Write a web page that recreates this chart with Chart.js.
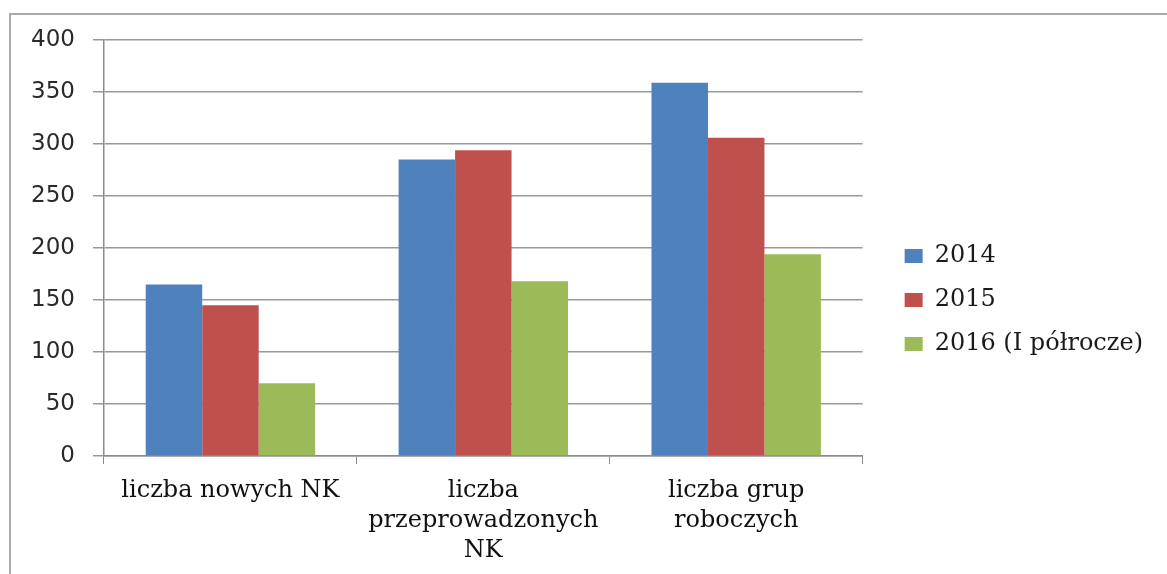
<!DOCTYPE html>
<html>
<head>
<meta charset="utf-8">
<script src="https://cdn.jsdelivr.net/npm/chart.js@4.4.0/dist/chart.umd.min.js"></script>
<style>
  html, body { margin: 0; padding: 0; background: #fff; overflow: hidden; }
  #frame { position: absolute; left: 9px; top: 13px; width: 1200px; height: 620px; border: 2px solid #a9a9a9; }
  #wrap { position: absolute; left: 0; top: 0; width: 1167px; height: 574px; }
</style>
</head>
<body>
<div id="frame"></div>
<div id="wrap"><canvas id="barChart" width="1167" height="574"></canvas></div>
<script>
var categories = [
  ["liczba nowych NK"],
  ["liczba", "przeprowadzonych", "NK"],
  ["liczba grup", "roboczych"]
];
var seriesNames = ["2014", "2015", "2016 (I półrocze)"];
var values2014 = [165, 285, 359];
var values2015 = [145, 294, 306];
var values2016 = [70, 168, 194];
var yTicks = [0, 50, 100, 150, 200, 250, 300, 350, 400];

// nudge the legend a bit to the right of the plot, like the original
var legendShift = {
  id: 'legendShift',
  afterLayout: function(chart) {
    if (chart.legend) {
      chart.legend.left += 22;
      chart.legend.right += 22;
    }
  }
};

var createBarChart = function() {
  new Chart(document.getElementById("barChart"), {
    type: 'bar',
    data: {
      labels: categories,
      datasets: [
        { label: seriesNames[0], backgroundColor: "#4F81BD", data: values2014 },
        { label: seriesNames[1], backgroundColor: "#C0504D", data: values2015 },
        { label: seriesNames[2], backgroundColor: "#9BBB59", data: values2016 }
      ]
    },
    plugins: [legendShift],
    options: {
      responsive: false,
      animation: false,
      categoryPercentage: 0.67,
      barPercentage: 1.0,
      layout: { padding: { top: 40, left: 10, right: 36, bottom: 14 } },
      plugins: {
        tooltip: { enabled: false },
        legend: {
          position: 'right',
          labels: {
            boxWidth: 18,
            boxHeight: 14,
            padding: 20,
            color: '#1a1a1a',
            font: { family: '"DejaVu Serif", serif', size: 24 }
          }
        }
      },
      scales: {
        x: {
          grid: { offset: true, drawOnChartArea: false, drawTicks: true, tickLength: 8, color: '#8c8c8c' },
          border: { color: '#8c8c8c', width: 1.5 },
          ticks: {
            color: '#111',
            padding: 12,
            maxRotation: 0,
            font: { family: '"DejaVu Serif", serif', size: 24, lineHeight: 1.25 }
          },
          afterFit: function(scale) { scale.height = 104; }
        },
        y: {
          min: 0,
          max: 400,
          afterBuildTicks: function(scale) {
            scale.ticks = yTicks.map(function(v) { return { value: v }; });
          },
          grid: { color: '#999', lineWidth: 1.5, tickLength: 11 },
          border: { color: '#8c8c8c', width: 1.5 },
          ticks: {
            color: '#2a2a2a',
            padding: 18,
            font: { family: '"DejaVu Sans", sans-serif', size: 23 }
          },
          afterFit: function(scale) { scale.width = 94; }
        }
      }
    }
  });
};
createBarChart();
</script>
</body>
</html>
